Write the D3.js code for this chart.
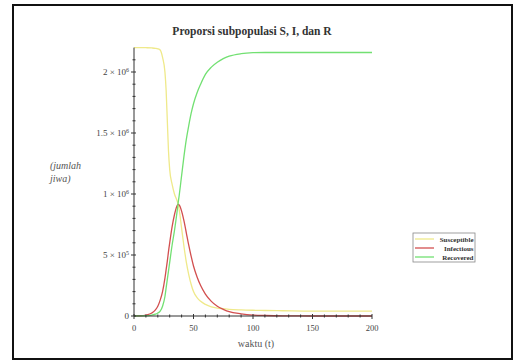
<!DOCTYPE html>
<html>
<head>
<meta charset="utf-8">
<script src="https://cdn.jsdelivr.net/npm/d3@7"></script>
<style>
  body { margin: 0; background: #fff; }
  svg { display: block; font-family: 'Liberation Serif', 'DejaVu Serif', serif; }
</style>
</head>
<body>
<div id="chart"></div>
<script>
// waktu (t)
const times = [0, 5, 10, 15, 18, 20, 22, 24, 26, 27, 28, 29, 30, 32, 34, 36, 37, 38, 40, 42, 44, 46, 48, 50, 53, 56, 60, 65, 70, 75, 80, 90, 100, 110, 125, 150, 175, 200];

// jumlah jiwa, in millions
const susceptible = [2.2, 2.2, 2.199, 2.197, 2.194, 2.19, 2.18, 2.12, 2.0, 1.85, 1.6, 1.35, 1.2, 1.08, 1.0, 0.95, 0.92, 0.87, 0.72, 0.57, 0.44, 0.34, 0.26, 0.2, 0.15, 0.12, 0.095, 0.075, 0.065, 0.06, 0.055, 0.05, 0.047, 0.045, 0.043, 0.04, 0.04, 0.04];
const infectious = [0.0005, 0.002, 0.008, 0.025, 0.05, 0.08, 0.13, 0.2, 0.31, 0.38, 0.45, 0.53, 0.6, 0.73, 0.83, 0.9, 0.915, 0.91, 0.86, 0.78, 0.68, 0.58, 0.49, 0.41, 0.32, 0.25, 0.18, 0.12, 0.08, 0.055, 0.035, 0.018, 0.008, 0.004, 0.001, 0.0002, 0.0001, 0.0001];
const recovered = [0, 0.0005, 0.002, 0.008, 0.015, 0.025, 0.04, 0.08, 0.16, 0.23, 0.3, 0.37, 0.44, 0.58, 0.7, 0.84, 0.92, 0.99, 1.15, 1.31, 1.45, 1.56, 1.66, 1.74, 1.83, 1.9, 1.98, 2.04, 2.08, 2.11, 2.13, 2.15, 2.158, 2.16, 2.16, 2.16, 2.16, 2.16];

const seriesNames = ['Susceptible', 'Infectious', 'Recovered'];
const seriesColors = ['#efe98a', '#d24f4f', '#72e072'];

const xTicks = [0, 50, 100, 150, 200];
const yTicks = [0, 0.5, 1, 1.5, 2];
const yTickLabels = [['0', ''], ['5 × 10', '5'], ['1 × 10', '6'], ['1.5 × 10', '6'], ['2 × 10', '6']];

const width = 513, height = 362;
const svg = d3.select('#chart').append('svg')
  .attr('width', width)
  .attr('height', height);

// frame
svg.append('rect')
  .attr('x', 13).attr('y', 5)
  .attr('width', 499).attr('height', 354)
  .attr('fill', 'none')
  .attr('stroke', '#111')
  .attr('stroke-width', 2);

const xScale = d3.scaleLinear().domain([0, 200]).range([134, 372]);
const yScale = d3.scaleLinear().domain([0, 2.2]).range([316, 47.6]);

const line = d3.line()
  .x(d => xScale(d[0]))
  .y(d => yScale(d[1]))
  .curve(d3.curveMonotoneX);

const allSeries = [susceptible, infectious, recovered];
allSeries.forEach((vals, i) => {
  svg.append('path')
    .datum(times.map((t, k) => [t, vals[k]]))
    .attr('fill', 'none')
    .attr('stroke', seriesColors[i])
    .attr('stroke-width', 1.3)
    .attr('d', line);
});

/* ----------axes------------*/
const axisColor = '#333';
const g = svg.append('g');

g.append('line')
  .attr('x1', xScale(0)).attr('x2', xScale(200))
  .attr('y1', yScale(0)).attr('y2', yScale(0))
  .attr('stroke', axisColor);
g.append('line')
  .attr('x1', xScale(0)).attr('x2', xScale(0))
  .attr('y1', yScale(0)).attr('y2', yScale(2.2))
  .attr('stroke', axisColor);

// x minor + major ticks
d3.range(0, 201, 10).forEach(v => {
  const major = v % 50 === 0;
  g.append('line')
    .attr('x1', xScale(v)).attr('x2', xScale(v))
    .attr('y1', yScale(0) - (major ? 2 : 1.5)).attr('y2', yScale(0) + (major ? 3 : 1.5))
    .attr('stroke', axisColor);
});
xTicks.forEach(v => {
  g.append('text')
    .attr('x', xScale(v)).attr('y', 331)
    .attr('text-anchor', 'middle')
    .attr('font-size', 8.5)
    .attr('fill', '#444')
    .text(v);
});

// y minor + major ticks
d3.range(0, 22).forEach(k => {
  const v = k / 10;
  const major = k % 5 === 0;
  g.append('line')
    .attr('x1', xScale(0) - (major ? 3 : 1.5)).attr('x2', xScale(0) + (major ? 2 : 1.5))
    .attr('y1', yScale(v)).attr('y2', yScale(v))
    .attr('stroke', axisColor);
});
yTicks.forEach((v, i) => {
  const t = g.append('text')
    .attr('x', xScale(0) - 5).attr('y', yScale(v) + 3)
    .attr('text-anchor', 'end')
    .attr('font-size', 9)
    .attr('fill', '#444');
  t.append('tspan').text(yTickLabels[i][0]);
  if (yTickLabels[i][1]) {
    t.append('tspan').attr('dy', -3.5).attr('font-size', 6).text(yTickLabels[i][1]);
  }
});

/* ----------titles------------*/
svg.append('text')
  .attr('x', 252).attr('y', 35)
  .attr('text-anchor', 'middle')
  .attr('font-size', 11.5)
  .attr('font-weight', 'bold')
  .attr('fill', '#333')
  .text('Proporsi subpopulasi S, I, dan R');

svg.append('text')
  .attr('x', 256).attr('y', 347)
  .attr('text-anchor', 'middle')
  .attr('font-size', 10)
  .attr('fill', '#555')
  .text('waktu (t)');

const yl = svg.append('text')
  .attr('font-size', 10)
  .attr('font-style', 'italic')
  .attr('fill', '#555');
yl.append('tspan').attr('x', 50).attr('y', 169).text('(jumlah');
yl.append('tspan').attr('x', 50).attr('y', 182).text('jiwa)');

/* ----------legend------------*/
const lg = svg.append('g');
lg.append('rect')
  .attr('x', 413).attr('y', 233)
  .attr('width', 62).attr('height', 29)
  .attr('fill', '#fff')
  .attr('stroke', '#888')
  .attr('stroke-width', 0.8);
seriesNames.forEach((name, i) => {
  const yy = 239 + i * 9;
  lg.append('line')
    .attr('x1', 415).attr('x2', 434)
    .attr('y1', yy).attr('y2', yy)
    .attr('stroke', seriesColors[i])
    .attr('stroke-width', 1.3);
  lg.append('text')
    .attr('x', 473.5).attr('y', yy + 2.5)
    .attr('text-anchor', 'end')
    .attr('font-size', 7)
    .attr('font-weight', 'bold')
    .attr('fill', '#333')
    .text(name);
});
</script>
</body>
</html>
